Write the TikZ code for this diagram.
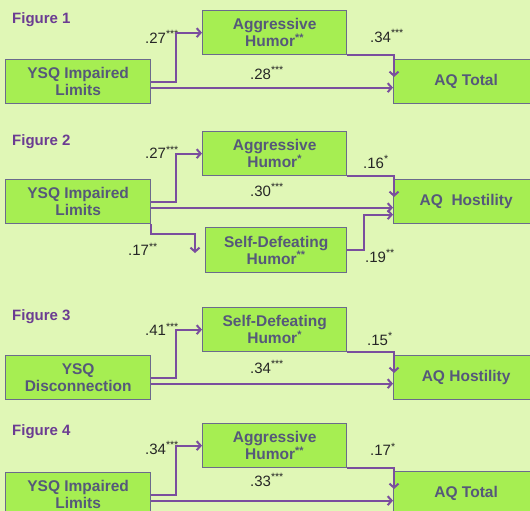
\documentclass[tikz,border=0pt]{standalone}
\usepackage{fontspec}
\setmainfont{Liberation Sans}
\usetikzlibrary{arrows.meta}
\definecolor{bggreen}{HTML}{E0F7B6}
\definecolor{boxgreen}{HTML}{A6EE52}
\definecolor{boxline}{HTML}{6B6A8C}
\definecolor{boxtext}{HTML}{55587A}
\definecolor{arrowpurple}{HTML}{7A4E9E}
\definecolor{figpurple}{HTML}{6B3C92}
\begin{document}
\begin{tikzpicture}[x=1pt, y=-1pt,
        box/.style={draw=boxline, fill=boxgreen, line width=1.3pt, anchor=north west,
            minimum width=145pt, minimum height=44pt, inner sep=0pt, align=center,
            text=boxtext, font=\fontsize{15.5}{17}\selectfont\bfseries},
        link/.style={draw=arrowpurple, line width=2pt, -{Straight Barb[length=4pt,width=9pt]}},
        coef/.style={anchor=west, inner sep=0pt, text=black!85, font=\fontsize{15}{17}\selectfont},
        figlabel/.style={anchor=west, inner sep=0pt, text=figpurple, font=\fontsize{15}{17}\selectfont\bfseries}]
        \useasboundingbox (0,0) rectangle (530,511);
        \clip (0,0) rectangle (530,511);
        \fill[bggreen] (0,0) rectangle (530,511);

        % Figure 1
        \node[figlabel] (fig1) at (12,20) {Figure 1};
        \node[box] (ysq1) at (5,59) {YSQ Impaired\\Limits};
        \node[box, minimum width=144pt] (agg1) at (202,10) {Aggressive\\Humor\textsuperscript{**}};
        \node[box] (aq1) at (393,59) {AQ Total};
        \node[coef] (c1a) at (145,37) {.27\textsuperscript{***}};
        \node[coef] (c1b) at (370,36) {.34\textsuperscript{***}};
        \node[coef] (c1c) at (250,73) {.28\textsuperscript{***}};
        \draw[link] (ysq1.east) -- ++(25,0) |- (agg1.west);
        \draw[link] (agg1.south east) -| ([xshift=1pt,yshift=-18pt]aq1.north west);
        \coordinate (d1) at ([yshift=-6pt]ysq1.east);
        \draw[link] (d1) -- (d1 -| aq1.west);

        % Figure 2
        \node[figlabel] (fig2) at (12,142) {Figure 2};
        \node[box] (ysq2) at (5,179) {YSQ Impaired\\Limits};
        \node[box, minimum width=144pt] (agg2) at (202,131) {Aggressive\\Humor\textsuperscript{*}};
        \node[box, minimum width=141pt, minimum height=45pt] (sd2) at (205,227) {Self-Defeating\\Humor\textsuperscript{**}};
        \node[box] (aq2) at (393,179) {AQ\ \ Hostility};
        \node[coef] (c2a) at (145,152) {.27\textsuperscript{***}};
        \node[coef] (c2b) at (363,162) {.16\textsuperscript{*}};
        \node[coef] (c2c) at (250,190) {.30\textsuperscript{***}};
        \node[coef] (c2d) at (128,249) {.17\textsuperscript{**}};
        \node[coef] (c2e) at (365,256) {.19\textsuperscript{**}};
        \draw[link] (ysq2.east) -- ++(25,0) |- (agg2.west);
        \draw[link] (agg2.south east) -| ([xshift=1pt,yshift=-18pt]aq2.north west);
        \coordinate (d2) at ([yshift=-6pt]ysq2.east);
        \draw[link] (d2) -- (d2 -| aq2.west);
        \draw[link] (ysq2.south east) -- ++(0,10) -| ([xshift=-10pt,yshift=-26pt]sd2.north west);
        \draw[link] (sd2.east) -- ++(17,0) |- ([yshift=-13pt]aq2.west);

        % Figure 3
        \node[figlabel] (fig3) at (12,317) {Figure 3};
        \node[box] (ysq3) at (5,355) {YSQ\\Disconnection};
        \node[box, minimum width=144pt] (sd3) at (202,307) {Self-Defeating\\Humor\textsuperscript{*}};
        \node[box] (aq3) at (393,355) {AQ Hostility};
        \node[coef] (c3a) at (145,329) {.41\textsuperscript{***}};
        \node[coef] (c3b) at (367,339) {.15\textsuperscript{*}};
        \node[coef] (c3c) at (250,367) {.34\textsuperscript{***}};
        \draw[link] (ysq3.east) -- ++(25,0) |- (sd3.west);
        \draw[link] (sd3.south east) -| ([xshift=1pt,yshift=-18pt]aq3.north west);
        \coordinate (d3) at ([yshift=-6pt]ysq3.east);
        \draw[link] (d3) -- (d3 -| aq3.west);

        % Figure 4
        \node[figlabel] (fig4) at (12,432) {Figure 4};
        \node[box] (ysq4) at (5,472) {YSQ Impaired\\Limits};
        \node[box, minimum width=144pt] (agg4) at (202,423) {Aggressive\\Humor\textsuperscript{**}};
        \node[box] (aq4) at (393,471) {AQ Total};
        \node[coef] (c4a) at (145,448) {.34\textsuperscript{***}};
        \node[coef] (c4b) at (370,449) {.17\textsuperscript{*}};
        \node[coef] (c4c) at (250,480) {.33\textsuperscript{***}};
        \draw[link] (ysq4.east) -- ++(25,0) |- (agg4.west);
        \draw[link] (agg4.south east) -| ([xshift=1pt,yshift=-18pt]aq4.north west);
        \coordinate (d4) at ([yshift=-6pt]ysq4.east);
        \draw[link] (d4) -- (d4 -| aq4.west);
\end{tikzpicture}
\end{document}
